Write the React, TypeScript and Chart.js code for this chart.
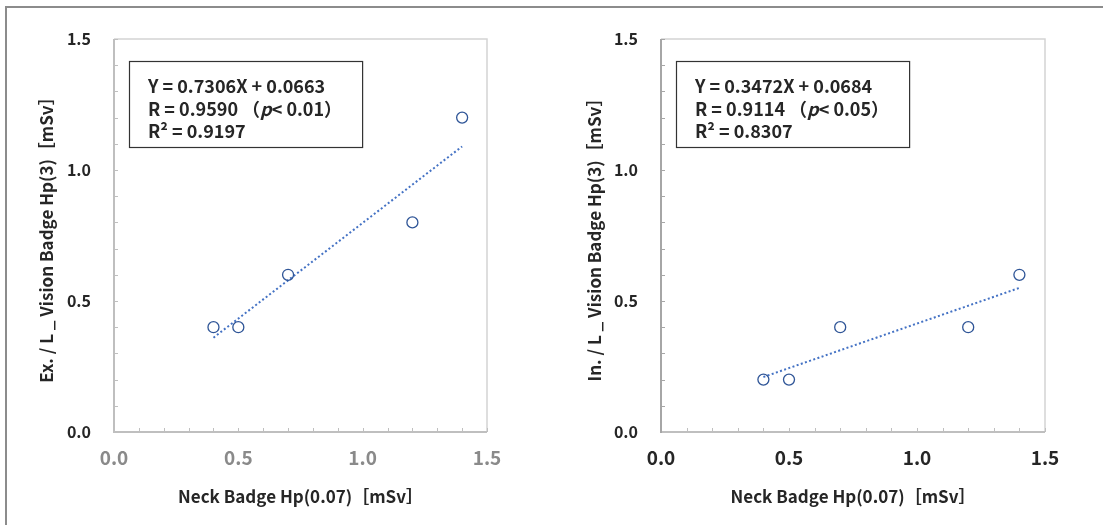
import React, { useEffect, useRef } from "react";
import { Chart, registerables } from "chart.js";

Chart.register(...registerables);

// ---- data ----
const neckDose = [0.4, 0.5, 0.7, 1.2, 1.4];
const exVisionDose = [0.4, 0.4, 0.6, 0.8, 1.2];
const inVisionDose = [0.2, 0.2, 0.4, 0.4, 0.6];
const trendNeck = [0.4, 1.4];
const exTrend = [0.36, 1.09];
const inTrend = [0.21, 0.55];
const axisMin = 0;
const axisMax = 1.5;
const majorStep = 0.5;
const minorStep = 0.1;
const xTitle = "Neck Badge Hp(0.07)［mSv］";
const exYTitle = "Ex. / L _ Vision Badge Hp(3)［mSv］";
const inYTitle = "In. / L _ Vision Badge Hp(3)［mSv］";

type Seg = { t: string; i?: boolean };
const exStatLines: Seg[][] = [
  [{ t: "Y = 0.7306X + 0.0663" }],
  [{ t: "R = 0.9590 （" }, { t: "p", i: true }, { t: "< 0.01）" }],
  [{ t: "R² = 0.9197" }],
];
const inStatLines: Seg[][] = [
  [{ t: "Y = 0.3472X + 0.0684" }],
  [{ t: "R = 0.9114 （" }, { t: "p", i: true }, { t: "< 0.05）" }],
  [{ t: "R² = 0.8307" }],
];

const FONT = "'Noto Sans CJK JP', 'Noto Sans', sans-serif";
const DARK = "#262626";

type PanelOpts = {
  yData: number[];
  trendY: number[];
  yTitle: string;
  stats: Seg[][];
  xTickColor: string;
  yAxisColor: string;
  xAxisColor: string;
  yAreaWidth: number;
  padRight: number;
  yTitlePad: number;
};

function makeChart(canvas: HTMLCanvasElement, o: PanelOpts) {
  const decor = {
    id: "decor",
    beforeDatasetsDraw(chart: any) {
      const { ctx, chartArea, scales } = chart;
      const { left, right, top, bottom } = chartArea;
      const xs = scales.x;
      const ys = scales.y;
      ctx.save();
      ctx.strokeStyle = "#d4d4d4";
      ctx.lineWidth = 1.5;
      ctx.beginPath();
      ctx.moveTo(left, top);
      ctx.lineTo(right, top);
      ctx.lineTo(right, bottom);
      ctx.stroke();
      ctx.lineWidth = 1;
      ctx.strokeStyle = o.xAxisColor;
      for (let k = 1; k * minorStep <= axisMax + 1e-9; k++) {
        const px = Math.round(xs.getPixelForValue(k * minorStep)) + 0.5;
        ctx.beginPath();
        ctx.moveTo(px, bottom);
        ctx.lineTo(px, bottom - 4);
        ctx.stroke();
      }
      ctx.strokeStyle = o.yAxisColor;
      for (let k = 1; k * minorStep <= axisMax + 1e-9; k++) {
        const py = Math.round(ys.getPixelForValue(k * minorStep)) + 0.5;
        ctx.beginPath();
        ctx.moveTo(left, py);
        ctx.lineTo(left + 4, py);
        ctx.stroke();
      }
      ctx.lineWidth = 2;
      ctx.strokeStyle = o.xAxisColor;
      ctx.beginPath();
      ctx.moveTo(left, bottom);
      ctx.lineTo(right, bottom);
      ctx.stroke();
      ctx.strokeStyle = o.yAxisColor;
      ctx.beginPath();
      ctx.moveTo(left, top);
      ctx.lineTo(left, bottom + 1);
      ctx.stroke();
      ctx.restore();
    },
    afterDatasetsDraw(chart: any) {
      const { ctx, chartArea } = chart;
      const fontN = `bold 18px ${FONT}`;
      const fontI = `italic bold 18px ${FONT}`;
      ctx.save();
      let maxW = 0;
      for (const line of o.stats) {
        let w = 0;
        for (const s of line) {
          ctx.font = s.i ? fontI : fontN;
          w += ctx.measureText(s.t).width;
        }
        maxW = Math.max(maxW, w);
      }
      const bx = chartArea.left + 15;
      const by = chartArea.top + 22;
      const padL = 19;
      const bw = maxW + padL + 20;
      const bh = 86;
      ctx.fillStyle = "#ffffff";
      ctx.fillRect(bx, by, bw, bh);
      ctx.strokeStyle = "#333333";
      ctx.lineWidth = 1.2;
      ctx.strokeRect(bx + 0.5, by + 0.5, bw, bh);
      ctx.fillStyle = DARK;
      ctx.textBaseline = "alphabetic";
      ctx.textAlign = "left";
      o.stats.forEach((line, li) => {
        let x = bx + padL;
        const y = by + 32 + li * 22.5;
        for (const s of line) {
          ctx.font = s.i ? fontI : fontN;
          ctx.fillText(s.t, x, y);
          x += ctx.measureText(s.t).width;
        }
      });
      ctx.restore();
    },
  };

  return new Chart(canvas, {
    type: "scatter",
    data: {
      datasets: [
        {
          type: "scatter",
          data: neckDose.map((x, i) => ({ x, y: o.yData[i] })),
          pointRadius: 5.5,
          pointBorderWidth: 1.3,
          pointBorderColor: "#2f5597",
          pointBackgroundColor: "rgba(255,255,255,0)",
          order: 1,
        },
        {
          type: "scatter",
          data: trendNeck.map((x, i) => ({ x, y: o.trendY[i] })),
          showLine: true,
          borderColor: "#4472c4",
          borderWidth: 2,
          borderDash: [2, 2.4],
          pointRadius: 0,
          order: 2,
        },
      ],
    },
    options: {
      responsive: false,
      animation: false,
      layout: { padding: { left: 0, top: 39, right: o.padRight, bottom: 0 } },
      plugins: { legend: { display: false }, tooltip: { enabled: false } },
      scales: {
        x: {
          type: "linear",
          min: axisMin,
          max: axisMax,
          grid: { display: false, drawTicks: false },
          border: { display: false },
          ticks: {
            stepSize: majorStep,
            callback: (v: any) => Number(v).toFixed(1),
            font: { family: FONT, size: 19, weight: "bold" },
            color: o.xTickColor,
            padding: 14,
          },
          title: {
            display: true,
            text: xTitle,
            font: { family: FONT, size: 17, weight: "bold" },
            color: DARK,
            padding: { top: 0, bottom: 18 },
          },
          afterFit: (s: any) => {
            s.height = 93;
          },
        },
        y: {
          type: "linear",
          min: axisMin,
          max: axisMax,
          grid: { display: false, drawTicks: false },
          border: { display: false },
          ticks: {
            stepSize: majorStep,
            callback: (v: any) => Number(v).toFixed(1),
            font: { family: FONT, size: 16, weight: "bold" },
            color: DARK,
            padding: 23,
          },
          title: {
            display: true,
            text: o.yTitle,
            font: { family: FONT, size: 17, weight: "bold" },
            color: DARK,
            padding: { top: o.yTitlePad, bottom: 0 },
          },
          afterFit: (s: any) => {
            s.width = o.yAreaWidth;
          },
        },
      },
    },
    plugins: [decor],
  } as any);
}

export default function App() {
  const leftRef = useRef<HTMLCanvasElement>(null);
  const rightRef = useRef<HTMLCanvasElement>(null);

  useEffect(() => {
    const c1 = makeChart(leftRef.current!, {
      yData: exVisionDose,
      trendY: exTrend,
      yTitle: exYTitle,
      stats: exStatLines,
      xTickColor: "#8a8a8a",
      yAxisColor: "#bfbfbf",
      xAxisColor: "#bfbfbf",
      yAreaWidth: 114,
      padRight: 64,
      yTitlePad: 36,
    });
    const c2 = makeChart(rightRef.current!, {
      yData: inVisionDose,
      trendY: inTrend,
      yTitle: inYTitle,
      stats: inStatLines,
      xTickColor: DARK,
      yAxisColor: "#a6a6a6",
      xAxisColor: "#bfbfbf",
      yAreaWidth: 110,
      padRight: 58,
      yTitlePad: 33,
    });
    return () => {
      c1.destroy();
      c2.destroy();
    };
  }, []);

  return (
    <div
      style={{
        position: "fixed",
        left: 0,
        top: 0,
        width: 1103,
        height: 525,
        background: "#ffffff",
        overflow: "hidden",
      }}
    >
      <canvas
        ref={leftRef}
        width={551}
        height={525}
        style={{ position: "absolute", left: 0, top: 0, width: 551, height: 525 }}
      />
      <canvas
        ref={rightRef}
        width={552}
        height={525}
        style={{ position: "absolute", left: 551, top: 0, width: 552, height: 525 }}
      />
      <div
        style={{
          position: "absolute",
          left: 5,
          top: 6,
          width: 1098,
          height: 2,
          background: "#8c8c8c",
        }}
      />
      <div
        style={{
          position: "absolute",
          left: 5,
          top: 6,
          width: 2,
          height: 519,
          background: "#8c8c8c",
        }}
      />
    </div>
  );
}
